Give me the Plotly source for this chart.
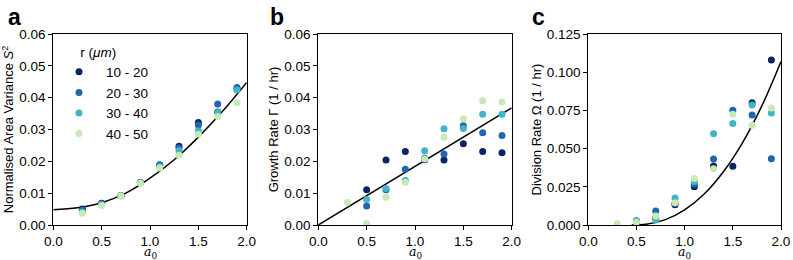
import plotly.graph_objects as go

# ---------------- data ----------------
a0 = [0.3, 0.5, 0.7, 0.9, 1.1, 1.3, 1.5, 1.7, 1.9]
groups = ["10 - 20", "20 - 30", "30 - 40", "40 - 50"]

# Panel a: normalised area variance S^2
s2_10_20 = [0.0050, 0.0068, 0.0093, 0.0134, 0.0188, 0.0247, 0.0322, 0.0355, 0.0428]
s2_20_30 = [0.0046, 0.0067, 0.0092, 0.0133, 0.0189, 0.0242, 0.0314, 0.0380, 0.0432]
s2_30_40 = [0.0041, 0.0064, 0.0092, 0.0133, 0.0184, 0.0233, 0.0295, 0.0354, 0.0424]
s2_40_50 = [0.0037, 0.0061, 0.0091, 0.0132, 0.0179, 0.0219, 0.0285, 0.0341, 0.0384]

# Panel b: growth rate Gamma (1/hr)
g_10_20 = [None, 0.0111, 0.0204, 0.0231, 0.0205, 0.0204, 0.0255, 0.0231, 0.0227]
g_20_30 = [None, 0.0060, 0.0111, 0.0175, 0.0210, 0.0223, 0.0312, 0.0290, 0.0281]
g_30_40 = [None, 0.0080, 0.0115, 0.0140, 0.0233, 0.0302, 0.0303, 0.0348, 0.0348]
g_40_50 = [0.0071, 0.0005, 0.0087, 0.0134, 0.0207, 0.0276, 0.0334, 0.0390, 0.0386]

# Panel c: division rate Omega (1/hr)
d_10_20 = [None, 0.0020, 0.0045, 0.0132, 0.0251, 0.0386, 0.0384, 0.0800, 0.1080]
d_20_30 = [None, 0.0027, 0.0092, 0.0140, 0.0268, 0.0432, 0.0751, 0.0720, 0.0434]
d_30_40 = [None, 0.0026, 0.0033, 0.0177, 0.0284, 0.0598, 0.0665, 0.0785, 0.0733]
d_40_50 = [0.0008, 0.0018, 0.0059, 0.0146, 0.0305, 0.0368, 0.0724, 0.0652, 0.0766]

# model curves
fit_a_x = [0.0, 0.25, 0.5, 0.75, 1.0, 1.25, 1.5, 1.75, 2.0]
fit_a_y = [0.0048, 0.0054, 0.0070, 0.0100, 0.0147, 0.0205, 0.0276, 0.0357, 0.0448]
fit_b_x = [0.0, 2.0]
fit_b_y = [0.0, 0.0368]
fit_c_x = [0.45, 0.6, 0.8, 1.0, 1.2, 1.4, 1.6, 1.8, 2.0]
fit_c_y = [0.0, 0.0005, 0.0035, 0.0099, 0.0201, 0.0347, 0.0538, 0.0778, 0.107]

colors = ["#0b2466", "#2464ad", "#3fb5c6", "#c7e9b4"]

FONT = "Liberation Sans, Arial, sans-serif"
W, H = 793, 260

fig = go.Figure()

panels = [
    ("x", "y", [s2_10_20, s2_20_30, s2_30_40, s2_40_50], fit_a_x, fit_a_y, True),
    ("x2", "y2", [g_10_20, g_20_30, g_30_40, g_40_50], fit_b_x, fit_b_y, False),
    ("x3", "y3", [d_10_20, d_20_30, d_30_40, d_40_50], fit_c_x, fit_c_y, False),
]

for xa, ya, series, fx, fy, show in panels:
    fig.add_trace(go.Scatter(x=fx, y=fy, mode="lines", xaxis=xa, yaxis=ya,
                             line=dict(color="black", width=1.5, shape="spline"),
                             showlegend=False, hoverinfo="skip"))
    for name, vals, col in zip(groups, series, colors):
        fig.add_trace(go.Scatter(x=a0, y=vals, mode="markers", name=name,
                                 xaxis=xa, yaxis=ya,
                                 marker=dict(color=col, size=7, line=dict(width=0)),
                                 showlegend=show))

def px_x(p):
    return p / W

def px_y(p):
    return 1 - p / H

ydom = [px_y(225), px_y(34)]
xdoms = [[px_x(53.3), px_x(246.7)], [px_x(318.3), px_x(511.7)], [px_x(588.3), px_x(781)]]

axis_common = dict(showline=True, linecolor="black", linewidth=1, mirror=True,
                   ticks="outside", ticklen=4, tickwidth=1, tickcolor="black",
                   showgrid=False, zeroline=False, automargin=False,
                   tickfont=dict(family=FONT, size=13.5, color="black"))

for i, (xn, yn) in enumerate([("xaxis", "yaxis"), ("xaxis2", "yaxis2"), ("xaxis3", "yaxis3")]):
    anchor_x = "y" if i == 0 else f"y{i+1}"
    fig.layout[xn] = dict(domain=xdoms[i], anchor=anchor_x, range=[0, 2],
                          tickvals=[0, 0.5, 1.0, 1.5, 2.0], tickformat=".1f",
                          **axis_common)
    # x-axis title (a_0) as paper annotation below the tick labels
    fig.add_annotation(text="<i>a</i><sub>0</sub>", xref="paper", yref="paper",
                       x=(xdoms[i][0] + xdoms[i][1]) / 2, y=px_y(252),
                       xanchor="center", yanchor="middle", showarrow=False,
                       font=dict(family="DejaVu Serif, serif", size=12.5, color="black"))

ytitle_font = dict(family=FONT, size=13, color="black")
fig.layout["yaxis"] = dict(domain=ydom, anchor="x", range=[0, 0.06],
                           tickvals=[0, 0.01, 0.02, 0.03, 0.04, 0.05, 0.06], tickformat=".2f",
                           title=dict(text="Normalised Area Variance <i>S</i><sup>2</sup>", font=ytitle_font, standoff=2),
                           **axis_common)
fig.layout["yaxis2"] = dict(domain=ydom, anchor="x2", range=[0, 0.06],
                            tickvals=[0, 0.01, 0.02, 0.03, 0.04, 0.05, 0.06], tickformat=".2f",
                            title=dict(text="Growth Rate Γ (1 / hr)", font=ytitle_font, standoff=2),
                            **axis_common)
fig.layout["yaxis3"] = dict(domain=ydom, anchor="x3", range=[0, 0.125],
                            tickvals=[0, 0.025, 0.05, 0.075, 0.1, 0.125], tickformat=".3f",
                            title=dict(text="Division Rate Ω (1 / hr)", font=ytitle_font, standoff=2),
                            **axis_common)

for letter, xp in [("a", 6), ("b", 268), ("c", 530)]:
    fig.add_annotation(text=f"<b>{letter}</b>", xref="paper", yref="paper",
                       x=px_x(xp), y=px_y(17), xanchor="left", yanchor="middle",
                       showarrow=False, font=dict(family=FONT, size=23, color="black"))

fig.update_layout(
    width=W, height=H,
    margin=dict(l=0, r=0, t=0, b=0, autoexpand=False),
    paper_bgcolor="white", plot_bgcolor="white",
    font=dict(family=FONT, size=13.5, color="black"),
    legend=dict(x=px_x(52), y=px_y(39), xanchor="left", yanchor="top",
                bgcolor="rgba(0,0,0,0)", borderwidth=0, itemwidth=44,
                title=dict(text="       r (<i>μm</i>)", font=dict(family=FONT, size=13.5)),
                font=dict(family=FONT, size=13.5), tracegroupgap=0),
)

fig.write_html("out.html", config={"displayModeBar": False},
               post_script="document.body.style.margin='0px';document.body.style.overflow='hidden';")
